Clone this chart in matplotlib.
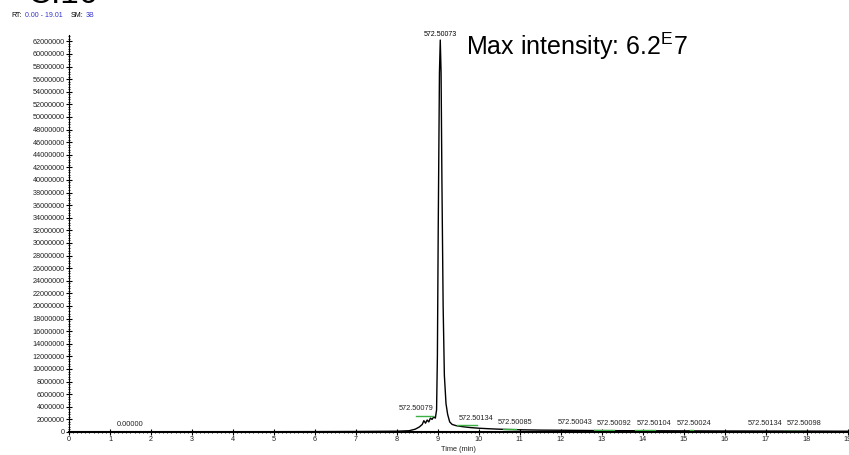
import matplotlib.pyplot as plt
from matplotlib.ticker import MultipleLocator, FixedLocator

plt.rcParams['font.family'] = ['Liberation Sans', 'DejaVu Sans']
plt.rcParams['mathtext.fontset'] = 'custom'
plt.rcParams['mathtext.rm'] = 'Liberation Sans'

# chromatogram trace (time in min, intensity)
time = [0.0, 1.0, 2.0, 3.0, 4.0, 5.0, 6.0, 7.0, 8.0, 8.3, 8.45, 8.55,
        8.62, 8.66, 8.7, 8.74, 8.78, 8.82, 8.86, 8.9, 8.94, 8.97, 8.99,
        9.01, 9.04, 9.06, 9.08, 9.1, 9.13, 9.16, 9.2, 9.24, 9.29, 9.35,
        9.45, 9.6, 9.8, 10.0, 10.3, 10.6, 11.0, 11.5, 12.0, 12.5, 13.0,
        14.0, 15.0, 16.0, 17.0, 18.0, 19.01]
intensity = [0.02e6, 0.03e6, 0.03e6, 0.04e6, 0.04e6, 0.05e6, 0.06e6,
             0.08e6, 0.12e6, 0.2e6, 0.45e6, 0.8e6, 1.2e6, 1.8e6, 1.4e6,
             1.9e6, 1.6e6, 2.2e6, 2.0e6, 2.4e6, 2.2e6, 3.5e6, 12e6,
             32e6, 57e6, 62.2e6, 57e6, 40e6, 20e6, 9e6, 4.5e6, 2.8e6,
             1.6e6, 1.2e6, 1.0e6, 0.85e6, 0.7e6, 0.6e6, 0.5e6, 0.42e6,
             0.35e6, 0.3e6, 0.28e6, 0.25e6, 0.22e6, 0.2e6, 0.18e6,
             0.16e6, 0.15e6, 0.14e6, 0.12e6]

# peak labels: position and text
label_t = [1.5, 8.47, 9.93, 10.88, 12.35, 13.3, 14.28, 15.25, 16.98, 17.94]
label_y = [0.6e6, 3.2e6, 1.6e6, 1.0e6, 1.0e6, 0.85e6, 0.85e6, 0.85e6,
           0.85e6, 0.85e6]
label_txt = ['0.00000', '572.50079', '572.50134', '572.50085', '572.50043',
             '572.50092', '572.50104', '572.50024', '572.50134', '572.50098']

# green baseline segments under the labels
seg_t0 = [8.46, 9.46, 10.6, 12.8, 13.8, 15.15, 17.45]
seg_t1 = [8.88, 9.95, 10.9, 13.3, 14.3, 15.22, 17.95]
seg_y = [2.5e6, 1.05e6, 0.5e6, 0.3e6, 0.3e6, 0.25e6, 0.2e6]

fig = plt.figure(figsize=(8.49, 4.55), dpi=100)
ax = fig.add_axes([69 / 849, 23 / 455, 779 / 849, 397 / 455])

ax.plot(time, intensity, color='black', lw=1.0)
for t0, t1, y in zip(seg_t0, seg_t1, seg_y):
    ax.plot([t0, t1], [y, y], color='#3cb043', lw=1.0)
for t, y, s in zip(label_t, label_y, label_txt):
    ax.text(t, y, s, fontsize=5.3, color='#222222', ha='center', va='bottom')

ax.text(9.06, 62.6e6, '572.50073', fontsize=5.0, ha='center', va='bottom')
ax.text(9.68, 59.8e6, r'Max intensity: 6.2$^{\mathrm{E}}$7', fontsize=18,
        ha='left', va='baseline')

ax.set_xlim(0, 19.01)
ax.set_ylim(0, 63e6)
ax.spines['top'].set_visible(False)
ax.spines['right'].set_visible(False)
ax.spines['bottom'].set_linewidth(1.5)

ax.xaxis.set_major_locator(MultipleLocator(1))
ax.xaxis.set_minor_locator(MultipleLocator(0.1))
ax.yaxis.set_major_locator(FixedLocator([i * 2e6 for i in range(32)]))
ax.yaxis.set_minor_locator(MultipleLocator(0.4e6))
ax.set_yticklabels([str(i * 2000000) for i in range(32)])
ax.tick_params(axis='both', which='major', labelsize=5.2, length=4,
               width=0.8, direction='inout', pad=1, labelcolor='#222222')
ax.tick_params(axis='both', which='minor', length=2, width=0.6,
               direction='inout')
ax.set_xlabel('Time (min)', fontsize=5.3, labelpad=2, color='#222222')

fig.text(27 / 849, 1 - 3 / 455, 'C:16', fontsize=24, va='baseline')
fig.text(11 / 849, 1 - 17 / 455, 'RT:', fontsize=5, va='baseline')
fig.text(25 / 849, 1 - 17 / 455, '0.00 - 19.01', fontsize=5, va='baseline',
         color='#3333cc')
fig.text(71 / 849, 1 - 17 / 455, 'SM:', fontsize=5, va='baseline')
fig.text(86 / 849, 1 - 17 / 455, '3B', fontsize=5, va='baseline',
         color='#3333cc')

fig.savefig('out.png', dpi=100)
